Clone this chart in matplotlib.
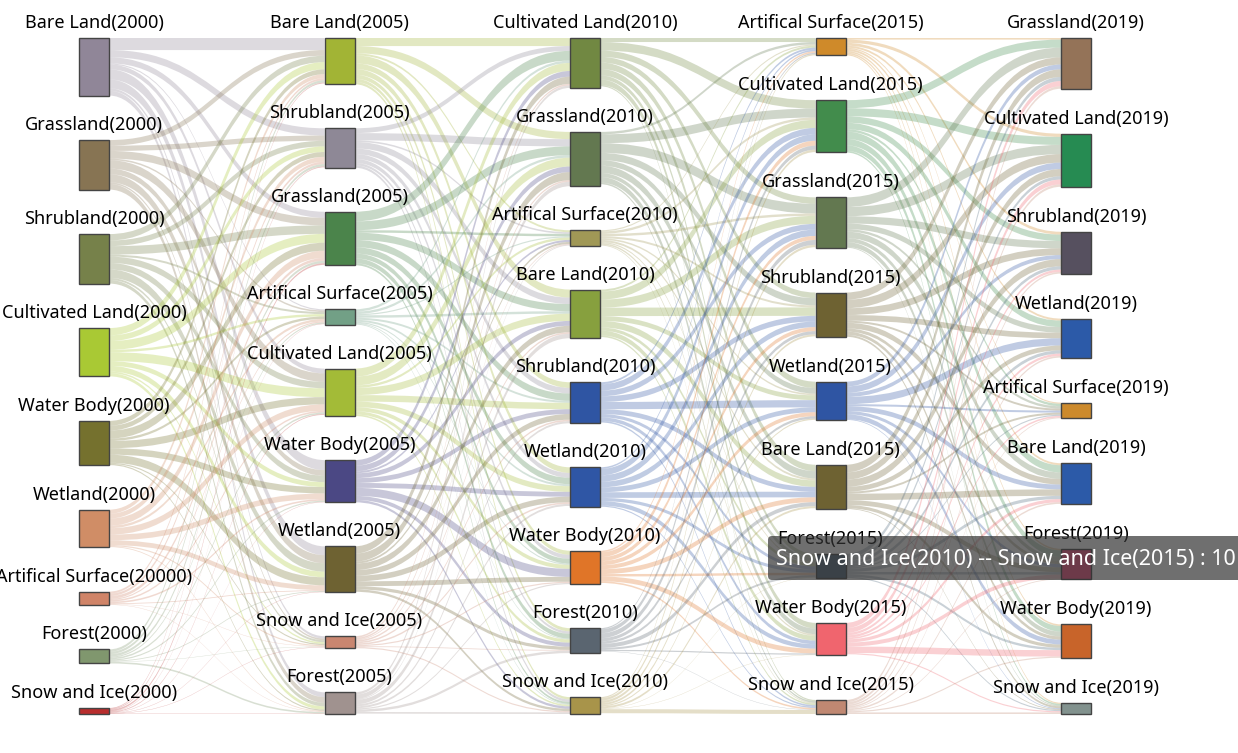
import matplotlib
matplotlib.use("Agg")
import matplotlib.pyplot as plt
from matplotlib.path import Path
from matplotlib.patches import PathPatch, Rectangle, FancyBboxPatch

plt.rcParams['font.family'] = ['Noto Sans', 'DejaVu Sans']

# node names per column, in the order they are stacked top to bottom
names_2000 = ["Bare Land(2000)", "Grassland(2000)", "Shrubland(2000)", "Cultivated Land(2000)",
              "Water Body(2000)", "Wetland(2000)", "Artifical Surface(20000)", "Forest(2000)",
              "Snow and Ice(2000)"]
names_2005 = ["Bare Land(2005)", "Shrubland(2005)", "Grassland(2005)", "Artifical Surface(2005)",
              "Cultivated Land(2005)", "Water Body(2005)", "Wetland(2005)", "Snow and Ice(2005)",
              "Forest(2005)"]
names_2010 = ["Cultivated Land(2010)", "Grassland(2010)", "Artifical Surface(2010)", "Bare Land(2010)",
              "Shrubland(2010)", "Wetland(2010)", "Water Body(2010)", "Forest(2010)",
              "Snow and Ice(2010)"]
names_2015 = ["Artifical Surface(2015)", "Cultivated Land(2015)", "Grassland(2015)", "Shrubland(2015)",
              "Wetland(2015)", "Bare Land(2015)", "Forest(2015)", "Water Body(2015)",
              "Snow and Ice(2015)"]
names_2019 = ["Grassland(2019)", "Cultivated Land(2019)", "Shrubland(2019)", "Wetland(2019)",
              "Artifical Surface(2019)", "Bare Land(2019)", "Forest(2019)", "Water Body(2019)",
              "Snow and Ice(2019)"]

colors_2000 = ["#908698", "#877453", "#76814a", "#a9c934", "#75712e", "#d08d66", "#d08468", "#80976e", "#b82d2d"]
colors_2005 = ["#a2b435", "#8e8896", "#4b844b", "#72a086", "#a3bb37", "#4b4884", "#6e6232", "#c98670", "#a0928f"]
colors_2010 = ["#718842", "#637850", "#a09856", "#87a03e", "#2f55a3", "#2f56a5", "#e07528", "#5a6570", "#a8944a"]
colors_2015 = ["#cf8a2a", "#428c4c", "#637850", "#6e6232", "#2f55a3", "#6e6232", "#4d677b", "#f0656e", "#c08872"]
colors_2019 = ["#947358", "#268b52", "#56505f", "#2c5aa8", "#cc8a2c", "#2c5aa8", "#f74d82", "#c8642a", "#82928e"]

# flows: rows = source (column order), cols = target (column order)
flow_2000_2005 = [
    [30, 18, 15, 3, 12, 25, 22, 6, 12],
    [14, 13, 19, 4, 21, 14, 20, 4, 14],
    [16, 14, 21, 5, 16, 16, 21, 5, 9],
    [18, 14, 22, 6, 22, 12, 14, 4, 8],
    [12, 12, 20, 6, 18, 16, 20, 3, 3],
    [10, 12, 18, 6, 16, 14, 12, 3, 2],
    [5, 6, 7, 3, 4, 4, 2, 1, 1],
    [6, 6, 6, 3, 4, 3, 2, 1, 4],
    [2, 2, 4, 1, 2, 1, 1, 1, 1],
]
flow_2005_2010 = [
    [20, 18, 5, 20, 14, 14, 10, 8, 6],
    [12, 18, 4, 16, 14, 12, 10, 6, 6],
    [24, 22, 6, 18, 18, 16, 12, 12, 5],
    [6, 6, 3, 6, 5, 5, 3, 2, 2],
    [20, 22, 6, 18, 16, 14, 10, 8, 4],
    [14, 14, 5, 12, 12, 12, 20, 10, 6],
    [18, 20, 5, 16, 14, 14, 12, 8, 6],
    [4, 4, 2, 4, 4, 4, 3, 2, 3],
    [6, 11, 2, 11, 5, 5, 3, 6, 4],
]
flow_2010_2015 = [
    [10, 21, 16, 14, 16, 16, 10, 14, 3],
    [6, 22, 24, 18, 14, 18, 10, 14, 4],
    [3, 6, 6, 5, 4, 5, 3, 4, 2],
    [5, 20, 20, 21, 12, 16, 8, 12, 4],
    [5, 16, 14, 14, 18, 12, 8, 9, 4],
    [4, 16, 16, 14, 12, 14, 8, 11, 3],
    [4, 12, 10, 10, 10, 12, 6, 12, 4],
    [3, 10, 12, 8, 6, 10, 5, 3, 1],
    [3, 6, 6, 5, 3, 5, 1, 1, 10],
]
flow_2015_2019 = [
    [4, 8, 7, 5, 3, 5, 4, 4, 3],
    [20, 20, 16, 16, 6, 18, 16, 14, 4],
    [24, 23, 18, 14, 6, 16, 10, 12, 2],
    [18, 21, 17, 14, 5, 14, 8, 8, 5],
    [12, 16, 10, 18, 5, 12, 8, 12, 2],
    [19, 18, 18, 12, 5, 16, 12, 8, 2],
    [10, 8, 8, 8, 3, 8, 6, 6, 3],
    [13, 12, 6, 6, 4, 8, 10, 16, 3],
    [6, 6, 4, 4, 2, 4, 2, 3, 4],
]

columns = [names_2000, names_2005, names_2010, names_2015, names_2019]
colors = [colors_2000, colors_2005, colors_2010, colors_2015, colors_2019]
flows = [flow_2000_2005, flow_2005_2010, flow_2010_2015, flow_2015_2019]

W, H = 1238, 753
top, bottom = 38, 714
node_w = 30
x_first, x_last = 79, 1061
min_gap = 44

fig = plt.figure(figsize=(W / 100, H / 100), dpi=100)
ax = fig.add_axes([0, 0, 1, 1])
ax.set_xlim(0, W)
ax.set_ylim(H, 0)
ax.axis("off")

ncol = len(columns)
xs = [x_first + (x_last - x_first) * c / (ncol - 1) for c in range(ncol)]

# node values = max(in, out) like echarts
values = []
for c in range(ncol):
    vals = []
    for i in range(len(columns[c])):
        out_v = sum(flows[c][i]) if c < ncol - 1 else 0
        in_v = sum(row[i] for row in flows[c - 1]) if c > 0 else 0
        vals.append(max(in_v, out_v))
    values.append(vals)

ky = min((bottom - top - min_gap * (len(v) - 1)) / sum(v) for v in values)
ys = []
for c in range(ncol):
    v = values[c]
    gap = (bottom - top - sum(v) * ky) / (len(v) - 1)
    y = top
    col_y = []
    for val in v:
        col_y.append(y)
        y += val * ky + gap
    ys.append(col_y)

# links
for c in range(ncol - 1):
    m = flows[c]
    src_off = [0.0] * len(m)
    x0 = xs[c] + node_w
    x1 = xs[c + 1]
    xm = (x0 + x1) / 2
    for i in range(len(m)):
        for j in range(len(m[i])):
            v = m[i][j]
            if v <= 0:
                continue
            w = v * ky
            sy = ys[c][i] + src_off[i]
            ty = ys[c + 1][j] + sum(m[k][j] for k in range(i)) * ky
            src_off[i] += w
            verts = [(x0, sy), (xm, sy), (xm, ty), (x1, ty),
                     (x1, ty + w), (xm, ty + w), (xm, sy + w), (x0, sy + w), (x0, sy)]
            codes = [Path.MOVETO, Path.CURVE4, Path.CURVE4, Path.CURVE4,
                     Path.LINETO, Path.CURVE4, Path.CURVE4, Path.CURVE4, Path.CLOSEPOLY]
            ax.add_patch(PathPatch(Path(verts, codes), facecolor=colors[c][i], alpha=0.3,
                                   edgecolor="none", zorder=1))

# nodes and labels
for c in range(ncol):
    for i, name in enumerate(columns[c]):
        h = values[c][i] * ky
        ax.add_patch(Rectangle((xs[c], ys[c][i]), node_w, h, facecolor=colors[c][i],
                               edgecolor="#444444", linewidth=1, zorder=2))
        ax.text(xs[c] + node_w / 2, ys[c][i] - 6, name, ha="center", va="bottom",
                fontsize=13, color="#000000", zorder=3)

# hover tooltip
tip_src, tip_tgt = 8, 8
tip_text = f"{names_2010[tip_src]} -- {names_2015[tip_tgt]} : {flow_2010_2015[tip_src][tip_tgt]}"
ax.add_patch(FancyBboxPatch((768, 536), 520, 44, boxstyle="round,pad=0,rounding_size=4",
                            facecolor=(50 / 255, 50 / 255, 50 / 255, 0.7), edgecolor="none", zorder=4))
ax.text(776, 559, tip_text, ha="left", va="center", fontsize=15.5, color="white", zorder=5)

fig.savefig("out.png", dpi=100)
